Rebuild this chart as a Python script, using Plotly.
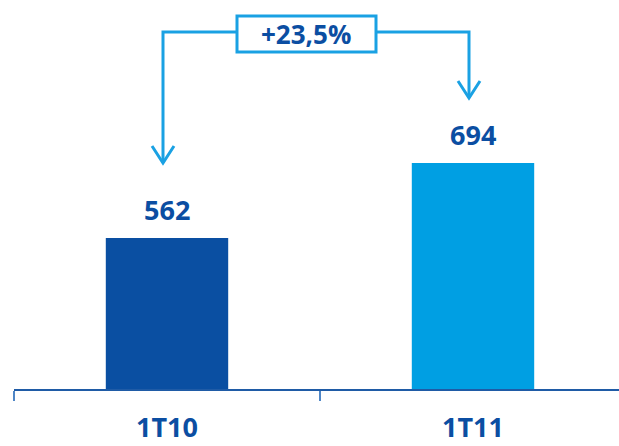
import plotly.graph_objects as go

categories = ["1T10", "1T11"]
values = [562, 694]
bar_colors = ["#0A4FA2", "#009FE3"]
change_label = "+23,5%"

DARK = "#0B4EA2"
ARROW = "#1AA1E3"
FONT = "Open Sans"

W, H = 619, 446
ML, MB = 14, 57
PW, PH = W - ML, H - MB  # plot area pixel size (top margin 0)


def px(x):
    return (x - ML) / PW


def py(y):
    return (H - MB - y) / PH


fig = go.Figure()
fig.add_trace(go.Bar(
    x=categories, y=values, width=0.4,
    marker=dict(color=bar_colors, line=dict(width=0)),
    hoverinfo="skip",
))

# value labels above bars
for c, v in zip(categories, values):
    fig.add_annotation(x=c, y=v, text=f"<b>{v}</b>", showarrow=False,
                       yanchor="bottom", yshift=8,
                       font=dict(family=FONT, size=27, color=DARK))

shapes = []
lw = 3
# connector path
shapes.append(dict(type="path", xref="paper", yref="paper",
                   path=f"M {px(163)} {py(163)} L {px(163)} {py(32)} L {px(469)} {py(32)} L {px(469)} {py(98)}",
                   line=dict(color=ARROW, width=lw)))
# arrow heads (chevrons)
shapes.append(dict(type="path", xref="paper", yref="paper",
                   path=f"M {px(152)} {py(146)} L {px(163)} {py(163)} L {px(174)} {py(146)}",
                   line=dict(color=ARROW, width=lw)))
shapes.append(dict(type="path", xref="paper", yref="paper",
                   path=f"M {px(458)} {py(81)} L {px(469)} {py(98)} L {px(480)} {py(81)}",
                   line=dict(color=ARROW, width=lw)))
# box
shapes.append(dict(type="rect", xref="paper", yref="paper",
                   x0=px(237), x1=px(376), y0=py(52), y1=py(16),
                   fillcolor="white", line=dict(color=ARROW, width=lw)))
fig.update_layout(shapes=shapes)

fig.add_annotation(xref="paper", yref="paper", x=px(306), y=py(34),
                   text=f"<b>{change_label}</b>", showarrow=False,
                   xanchor="center", yanchor="middle",
                   font=dict(family=FONT, size=26, color=DARK))

fig.update_layout(
    width=W, height=H,
    margin=dict(l=ML, r=0, t=0, b=MB, autoexpand=False),
    paper_bgcolor="white", plot_bgcolor="white",
    showlegend=False,
    xaxis=dict(
        range=[-0.5, -0.5 + PW / 306],
        automargin=False,
        showline=True, linecolor="#1F5BA6", linewidth=1.5,
        ticks="outside", ticklen=10, tickwidth=1.5, tickcolor="#4F86C6",
        tickson="boundaries", showgrid=False,
        ticklabelstandoff=14,
        tickfont=dict(family=FONT, size=27, color=DARK, weight="bold"),
    ),
    yaxis=dict(range=[296, 296 + PH / 0.568], visible=False, showgrid=False,
               automargin=False),
)

fig.write_html("out.html", config={"displayModeBar": False},
               post_script="document.body.style.margin='0';document.body.style.overflow='hidden';")
